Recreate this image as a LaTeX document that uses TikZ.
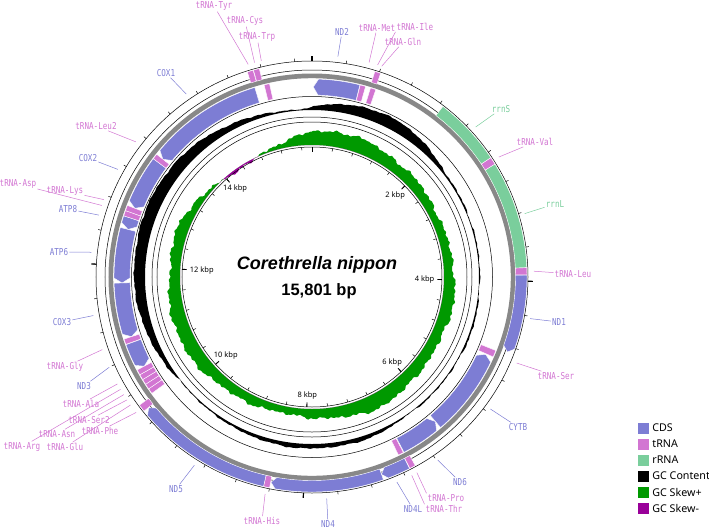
\documentclass[tikz,border=0pt]{standalone}
\usepackage{fontspec}
\usepackage{graphicx}
\usetikzlibrary{positioning}
\newfontfamily\lblfont{DejaVu Sans Mono}
\newfontfamily\legfont{Noto Sans}
\newfontfamily\cenfont{Liberation Sans}

\definecolor{cds}{RGB}{125,125,212}
\definecolor{trna}{RGB}{210,118,210}
\definecolor{rrna}{RGB}{122,206,156}
\definecolor{skewp}{RGB}{0,153,0}
\definecolor{skewm}{RGB}{153,0,153}
\definecolor{backbone}{RGB}{136,136,136}

\tikzset{
  cdsfill/.style={fill=cds, draw=white, line width=0.4pt},
  trnafill/.style={fill=trna, draw=white, line width=0.4pt},
  rrnafill/.style={fill=rrna, draw=white, line width=0.4pt},
  ring/.style={line width=0.5pt},
  lead/.style={line width=0.5pt},
  lbl/.style={inner sep=1pt, font={\lblfont\fontsize{9.5}{10}\selectfont}},
  kbp/.style={inner sep=0.5pt, font={\legfont\fontsize{7.5}{8}\selectfont}},
  legtext/.style={inner sep=0pt, font={\legfont\fontsize{10.7}{12}\selectfont}}
}

% band between two angles (clockwise from top) and two radii
\newcommand{\arcband}[5]{%
  \path[#1] ({90-#2}:#5) arc[start angle={90-#2}, end angle={90-#3}, radius=#5]
    -- ({90-#3}:#4) arc[start angle={90-#3}, end angle={90-#2}, radius=#4] -- cycle;}
% gene on the inner track, head at the first angle
\newcommand{\cdsin}[2]{%
  \path[cdsfill] ({90-#1}:190) -- ({88.5-#1}:198)
    arc[start angle={88.5-#1}, end angle={90-#2}, radius=198]
    -- ({90-#2}:182) arc[start angle={90-#2}, end angle={88.5-#1}, radius=182] -- cycle;}
% gene on the outer track, head at the second angle
\newcommand{\cdsout}[2]{%
  \path[cdsfill] ({90-#1}:215) arc[start angle={90-#1}, end angle={91.4-#2}, radius=215]
    -- ({90-#2}:209.25) -- ({91.4-#2}:203.5)
    arc[start angle={91.4-#2}, end angle={90-#1}, radius=203.5] -- cycle;}

\begin{document}
\begin{tikzpicture}[x=1pt, y=1pt,
  declare function={
    nz(\xt)=0.35*sin(7.3*\xt+11)+0.3*sin(13.7*\xt+53)+0.25*sin(29.3*\xt+5)+0.3*sin(44.1*\xt+71)
      +0.25*sin(89*mod(\xt,41)+17)+0.2*sin(157*mod(\xt,31)+29);
    gcc(\xt)=1.2+11*max(0,1-(abs(mod(\xt+250,360)-180)/58)^2)+10*max(0,1-(abs(mod(\xt+155,360)-180)/27)^2)
      +3.5*max(0,1-(abs(mod(\xt+360,360)-180)/32)^2)+0.9*nz(\xt);
    gcs(\xt)=11+2.5*sin(3*\xt+40)+1.5*sin(5*\xt+10)+2.2*nz(\xt+7)-9.5*max(0,1-(abs(mod(\xt+215,360)-180)/32)^2);
  }]
\useasboundingbox (-312,-254) rectangle (397,277);

%GC SKEW
\fill[skewp, even odd rule] (0,0) circle (132)
  plot[domain=0:360, samples=721, variable=\t] ({90-\t}:{132+max(0,gcs(\t))}) -- cycle;
\fill[skewm, even odd rule] (0,0) circle (132)
  plot[domain=0:360, samples=721, variable=\t] ({90-\t}:{132+min(0,gcs(\t))}) -- cycle;

%GC CONTENT
\fill[black, even odd rule] (0,0) circle (167)
  plot[domain=0:360, samples=721, variable=\t] ({90-\t}:{167+min(13.5,gcc(\t))}) -- cycle;

%CIRCLES
\foreach \rr in {130,155,160,180.5,207,216}
  \draw[ring] (0,0) circle (\rr);

%BACKBONE
\fill[backbone, even odd rule] (0,0) circle (203.5) (0,0) circle (198.8);

%GENES
\cdsin{308.3}{343.2} % COX1
\cdsin{0.4}{14.0}    % ND2
\cdsin{114.0}{139.5} % CYTB
\cdsin{139.5}{152.3} % ND6
\cdsin{242.0}{250.0} % ND3
\cdsin{251.7}{268.2} % COX3
\cdsin{268.2}{284.5} % ATP6
\cdsin{284.5}{288.0} % ATP8
\cdsin{291.2}{306.7} % COX2
\cdsout{89.5}{111.0}  % ND1
\cdsout{153.0}{160.6} % ND4L
\cdsout{160.6}{191.3} % ND4
\cdsout{193.0}{231.3} % ND5

\arcband{rrnafill}{37.5}{56.3}{203.5}{215}
\arcband{rrnafill}{58.3}{87.5}{203.5}{215}

\foreach \aa/\ab in {342.5/344.1, 344.2/345.8, 17.0/18.6, 56.3/58.3, 87.5/89.4,
    151.3/152.9, 191.4/193.0, 231.4/233.4}
  \arcband{trnafill}{\aa}{\ab}{203.5}{215};
\foreach \aa/\ab in {346.0/347.6, 14.1/15.7, 17.2/18.8, 111.8/113.8, 152.5/154.1,
    234.0/235.6, 235.6/237.2, 237.2/238.8, 238.8/240.4, 240.4/242.0,
    250.1/251.7, 288.0/289.6, 289.6/291.2, 306.7/308.3}
  \arcband{trnafill}{\aa}{\ab}{182}{198};

%TICKS
\foreach \k in {0,...,39} {
  \pgfmathsetmacro\ang{90-\k*9.11335}
  \draw[ring] (\ang:216) -- (\ang:219);
  \draw[ring] (\ang:130) -- (\ang:127);
}
\foreach \k in {0,10,20,30} {
  \pgfmathsetmacro\ang{90-\k*9.11335}
  \draw[line width=1.2pt] (\ang:216) -- (\ang:221);
}
\foreach \k in {0,5,...,35} {
  \pgfmathsetmacro\ang{90-\k*9.11335}
  \draw[line width=0.9pt] (\ang:130) -- (\ang:125.5);
}
\foreach \k in {5,10,...,35} {
  \pgfmathsetmacro\ang{mod(90-\k*9.11335+720,360)}
  \pgfmathtruncatemacro\kb{\k*2/5}
  \node[kbp, anchor=\ang] (kb\k) at (\ang:123) {\kb\ kbp};
}

%LABELS
\foreach \nm/\ang/\lx/\ly/\kind/\lk/\txt in {
    tyr/343.3/-98/271/trna/1/tRNA-Tyr, cys/345.0/-67/256/trna/1/tRNA-Cys,
    trp/346.8/-55/240/trna/1/tRNA-Trp, cox1/325.5/-146/204/cds/1/COX1,
    nd2/6.7/30/245/cds/1/ND2, met/14.9/65/249/trna/1/tRNA-Met,
    ile/17.2/103/250/trna/0/tRNA-Ile, gln/18.3/91/235/trna/1/tRNA-Gln,
    rrns/47.5/189/168/rrna/1/rrnS, val/57.3/223/135/trna/1/tRNA-Val,
    rrnl/73.4/243/73/rrna/1/rrnL, leu/88.5/261/3/trna/1/tRNA-Leu,
    nd1/100.8/247/-45/cds/1/ND1, ser/112.8/244/-99/trna/1/tRNA-Ser,
    cytb/126.5/206/-150/cds/1/CYTB, nd6/145.5/148/-205/cds/1/ND6,
    pro/151.8/134/-221/trna/0/tRNA-Pro, thr/153.3/132/-232/trna/0/tRNA-Thr,
    nd4l/157.5/101/-232/cds/1/ND4L, nd4/176.2/16/-247/cds/1/ND4,
    his/192.2/-50/-244/trna/1/tRNA-His, nd5/212/-136/-212/cds/1/ND5,
    phe/232.4/-212/-154/trna/1/tRNA-Phe, glu/234.8/-247/-170/trna/1/tRNA-Glu,
    ser2/236.4/-223/-143/trna/1/tRNA-Ser2, asn/238.0/-255/-157/trna/1/tRNA-Asn,
    arg/239.6/-290/-170/trna/1/tRNA-Arg, ala/241.2/-231/-127/trna/1/tRNA-Ala,
    nd3/246/-228/-109/cds/1/ND3, gly/250.9/-247/-90/trna/1/tRNA-Gly,
    cox3/260/-250/-45/cds/1/COX3, atp6/276.4/-253/25/cds/1/ATP6,
    atp8/286.2/-244/68/cds/1/ATP8, asp/288.8/-294/93/trna/1/tRNA-Asp,
    lys/290.4/-247/86/trna/1/tRNA-Lys, cox2/299/-224/119/cds/1/COX2,
    leu2/307.5/-216/151/trna/1/tRNA-Leu2} {
  \coordinate (\nm-s) at ({90-\ang}:222);
  \node[lbl, text=\kind] (\nm) at (\lx,\ly) {\scalebox{0.8}[1]{\txt}};
  \ifnum\lk=1 \draw[\kind, lead] (\nm-s) -- (\nm); \fi
}
\draw[trna, lead] (ile-s) -- (ile.south west);
\draw[trna, lead] (pro-s) -- (pro.north west);
\draw[trna, lead] (thr-s) -- (thr.north west);

%CENTRE
\node[font={\cenfont\bfseries\itshape\fontsize{18}{20}\selectfont}] (title) at (5,12) {Corethrella nippon};
\node[font={\cenfont\bfseries\fontsize{16.5}{18}\selectfont}] (size) at (7,-14) {15,801 bp};

%LEGEND
\foreach \i/\col/\txt in {0/cds/CDS, 1/trna/tRNA, 2/rrna/rRNA, 3/black/GC Content,
    4/skewp/GC Skew+, 5/skewm/GC Skew-} {
  \node[fill=\col, minimum size=11pt, inner sep=0pt] (key\i) at (331.5,{-151-16*\i}) {};
  \node[legtext, right=3pt of key\i] (leg\i) {\txt};
}
\end{tikzpicture}
\end{document}
